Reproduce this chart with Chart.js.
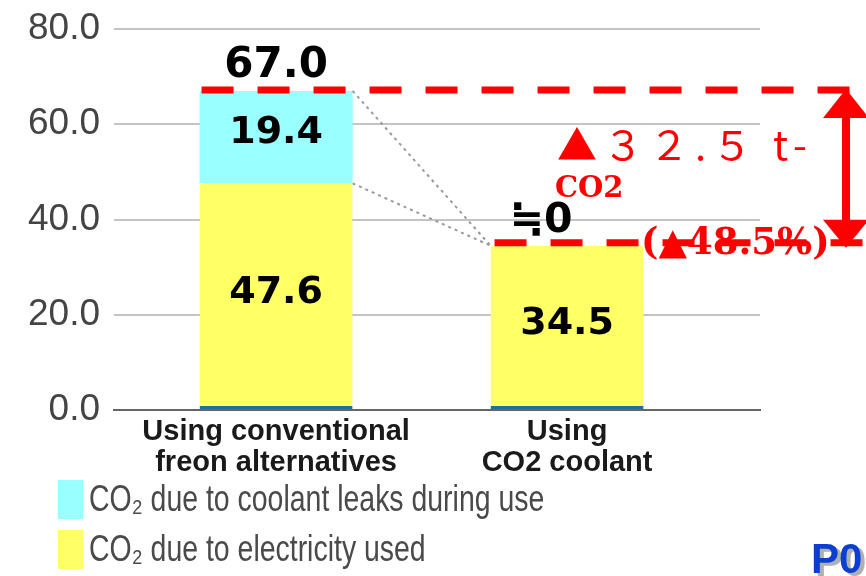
<!DOCTYPE html>
<html>
<head>
<meta charset="utf-8">
<script src="https://cdn.jsdelivr.net/npm/chart.js@4.4.0/dist/chart.umd.min.js"></script>
<style>
  html, body { margin: 0; padding: 0; background: #fff; }
  #wrap { width: 866px; height: 576px; }
</style>
</head>
<body>
<div id="wrap"><canvas id="co2" width="866" height="576"></canvas></div>
<script>
// datos
const categories = [['Using conventional', 'freon alternatives'], ['Using', 'CO2 coolant']];
const electricity = [47.6, 34.5];
const leaks = [19.4, 0];
const yTicks = [0, 20, 40, 60, 80];
const seriesNames = ['CO\u2082 due to electricity used', 'CO\u2082 due to coolant leaks during use'];
const seriesColors = ['#ffff66', '#99ffff'];

const totals = electricity.map((v, i) => v + leaks[i]);
const reduction = totals[0] - totals[1];
const reductionPct = reduction / totals[0] * 100;

// digitos a ancho completo para la etiqueta roja
function fullWidth(s) {
  return s.replace(/[0-9]/g, c => String.fromCharCode(c.charCodeAt(0) + 0xFEE0));
}

function line(ctx, x1, y1, x2, y2) {
  ctx.beginPath();
  ctx.moveTo(x1, y1);
  ctx.lineTo(x2, y2);
  ctx.stroke();
}

const anotaciones = {
  id: 'anotaciones',
  afterDatasetsDraw(chart) {
    const ctx = chart.ctx;
    const y = chart.scales.y;
    const bars = chart.getDatasetMeta(0).data;
    const b1 = bars[0], b2 = bars[1];
    const yTop1 = y.getPixelForValue(totals[0]);
    const yMid1 = y.getPixelForValue(electricity[0]);
    const yTop2 = y.getPixelForValue(totals[1]);
    const r1 = b1.x + b1.width / 2;
    const l1 = b1.x - b1.width / 2;
    const l2 = b2.x - b2.width / 2;
    ctx.save();

    // lineas punteadas grises
    ctx.strokeStyle = '#9a9a9a';
    ctx.lineWidth = 2;
    ctx.setLineDash([3, 4]);
    line(ctx, r1, yTop1, l2, yTop2);
    line(ctx, r1, yMid1, l2, yTop2);

    // etiquetas dentro de las barras
    ctx.setLineDash([]);
    ctx.fillStyle = '#000';
    ctx.textAlign = 'center';
    ctx.textBaseline = 'middle';
    ctx.font = "bold 38px 'DejaVu Sans'";
    chart.data.datasets.forEach((ds, di) => {
      chart.getDatasetMeta(di).data.forEach((el, i) => {
        const v = ds.data[i].y;
        if (v <= 0) return;
        const mid = (y.getPixelForValue(di === 0 ? 0 : electricity[i]) + el.y) / 2;
        ctx.fillText(v.toFixed(1), el.x, mid - 4);
      });
    });

    // totales arriba
    ctx.textBaseline = 'alphabetic';
    ctx.font = "bold 42px 'DejaVu Sans'";
    ctx.fillText(totals[0].toFixed(1), b1.x, yTop1 - 14);
    ctx.font = "bold 41px 'DejaVu Sans'";
    ctx.fillText('\u22520', b2.x - 26, yTop2 - 14);

    // lineas rojas discontinuas
    ctx.strokeStyle = '#ff0000';
    ctx.lineWidth = 7;
    ctx.setLineDash([32, 24]);
    line(ctx, l1 + 2, yTop1 - 1, 850, yTop1 - 1);
    line(ctx, l2 + 4, yTop2 - 3, chart.width, yTop2 - 3);

    // flecha doble
    ctx.setLineDash([]);
    ctx.lineWidth = 8;
    const ax = 846;
    line(ctx, ax, yTop1 + 20, ax, yTop2 - 20);
    ctx.fillStyle = '#ff0000';
    ctx.beginPath();
    ctx.moveTo(ax, yTop1 - 2);
    ctx.lineTo(ax + 23, yTop1 + 27);
    ctx.lineTo(ax - 23, yTop1 + 27);
    ctx.closePath();
    ctx.fill();
    ctx.beginPath();
    ctx.moveTo(ax, yTop2 + 2);
    ctx.lineTo(ax + 23, yTop2 - 26);
    ctx.lineTo(ax - 23, yTop2 - 26);
    ctx.closePath();
    ctx.fill();

    // textos rojos
    ctx.textAlign = 'left';
    ctx.font = "40px 'Noto Sans CJK JP'";
    ctx.letterSpacing = '6px';
    ctx.fillText('\u25B2' + fullWidth(reduction.toFixed(1)) + ' t-', 557, 160);
    ctx.letterSpacing = '0px';
    ctx.font = "bold 29px 'DejaVu Serif'";
    ctx.fillText('CO2', 555, 197);
    ctx.font = "bold 37px 'DejaVu Serif'";
    ctx.fillText('(\u25B2' + reductionPct.toFixed(1) + '%)', 641, 254);
    ctx.restore();
  },
  afterDraw(chart) {
    const ctx = chart.ctx;
    ctx.save();
    // leyenda
    const items = chart.data.datasets.slice().reverse();
    ctx.textAlign = 'left';
    ctx.textBaseline = 'middle';
    ctx.font = "36px 'Liberation Sans', Arial";
    items.forEach((ds, i) => {
      const top = 480 + i * 50;
      ctx.fillStyle = ds.backgroundColor;
      ctx.fillRect(58, top, 25, 39);
      ctx.save();
      ctx.translate(89, top + 21);
      ctx.scale(0.79, 1);
      ctx.fillStyle = '#4a4a4a';
      ctx.fillText(ds.label, 0, 0);
      ctx.restore();
    });
    // P0
    ctx.textBaseline = 'alphabetic';
    ctx.font = "bold 42px 'Liberation Sans', Arial";
    ctx.fillStyle = '#b0b0b0';
    ctx.fillText('P0', 815, 576);
    ctx.fillStyle = '#0b3fd0';
    ctx.fillText('P0', 811, 573);
    ctx.restore();
  }
};

Chart.defaults.font.family = "'Liberation Sans', Arial, sans-serif";

new Chart(document.getElementById('co2'), {
  type: 'bar',
  data: {
    datasets: [
      {
        label: seriesNames[0],
        data: electricity.map((v, i) => ({ x: i, y: v })),
        backgroundColor: seriesColors[0],
        borderColor: '#1f6e9c',
        borderWidth: { top: 0, left: 0, right: 0, bottom: 3 },
        borderSkipped: false
      },
      {
        label: seriesNames[1],
        data: leaks.map((v, i) => ({ x: i, y: v })),
        backgroundColor: seriesColors[1],
        borderWidth: 0
      }
    ]
  },
  options: {
    responsive: false,
    animation: false,
    categoryPercentage: 1,
    barPercentage: 0.526,
    layout: { padding: { left: 0, right: 106, top: 29, bottom: 96 } },
    plugins: {
      legend: { display: false },
      tooltip: { enabled: false }
    },
    scales: {
      x: {
        type: 'linear',
        stacked: true,
        offset: false,
        min: -0.557,
        max: 1.663,
        grid: { display: false, drawTicks: false, offset: false },
        border: { display: true, color: '#666', width: 2 },
        ticks: {
          stepSize: 1,
          includeBounds: false,
          padding: 6,
          color: '#1a1a1a',
          font: { size: 29, weight: 'bold', lineHeight: 1.08 },
          callback: v => categories[v] || ''
        },
        afterFit: s => { s.height = 70; }
      },
      y: {
        stacked: true,
        min: 0,
        max: 80,
        afterBuildTicks: s => { s.ticks = yTicks.map(v => ({ value: v })); },
        grid: { color: '#c4c4c4', lineWidth: 2, drawTicks: false },
        border: { display: false },
        ticks: {
          padding: 14,
          color: '#444',
          font: { size: 37 },
          callback: v => v.toFixed(1)
        },
        afterFit: s => { s.width = 114; s.paddingTop = 8; }
      }
    }
  },
  plugins: [anotaciones]
});
</script>
</body>
</html>
